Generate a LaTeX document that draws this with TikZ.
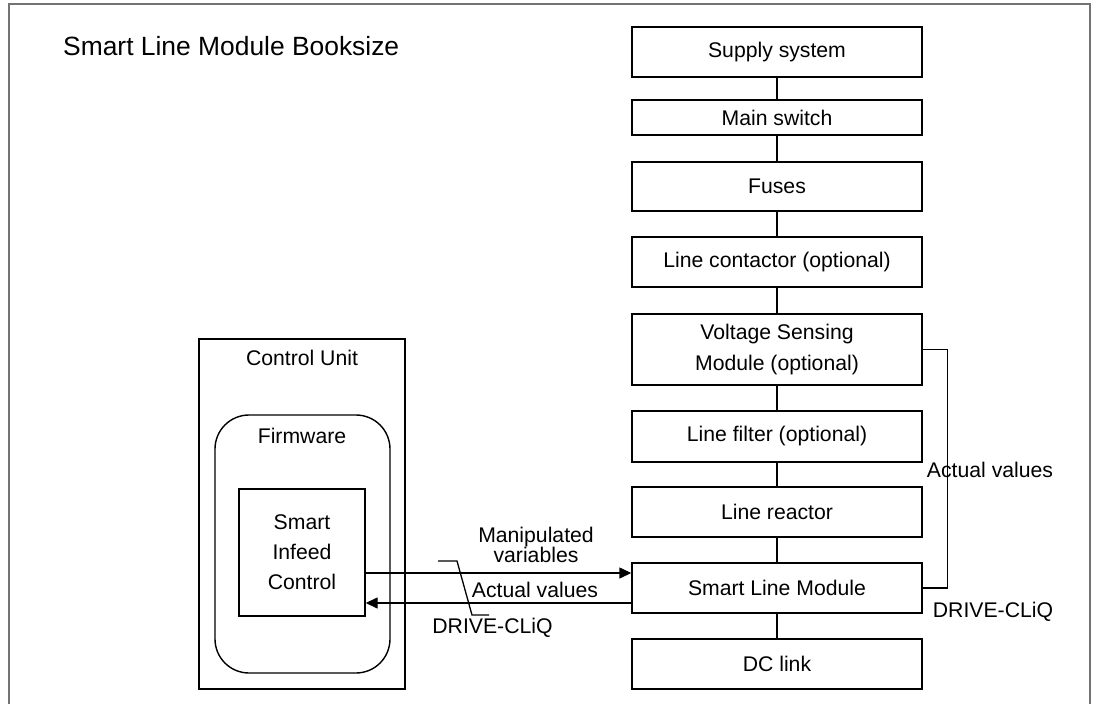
\documentclass[tikz,border=0pt]{standalone}
\usepackage{fontspec}
\setmainfont{Liberation Sans}
\usetikzlibrary{arrows.meta}
\tikzset{
  lbl/.style={font=\fontsize{21.2}{21.2}\selectfont, inner sep=0pt},
  blk/.style={draw, line width=1.4pt, minimum width=290pt, inner sep=0pt, align=center,
              font=\fontsize{21.2}{31}\selectfont},
  wire/.style={line width=1.4pt},
  arr/.style={line width=1.4pt, -{Triangle[length=12pt,width=11pt]}},
  frame/.style={line width=2pt, draw=black!55}
}
\begin{document}
\begin{tikzpicture}[x=1pt,y=-1pt]
\useasboundingbox (0,0) rectangle (1093,704);
% outer frame (bottom edge outside the picture)
\draw[frame] (9,704) -- (9,4) -- (1090,4) -- (1090,704);
\node[lbl, anchor=west, font=\fontsize{26.4}{26.4}\selectfont] (title) at (63,46) {Smart Line Module Booksize};

% right column
\node[blk, minimum height=50pt] (supply) at (777,52) {Supply system};
\node[blk, minimum height=35pt] (mains) at (777,117.5) {Main switch};
\node[blk, minimum height=49pt] (fuses) at (777,186.5) {Fuses};
\node[blk, minimum height=50pt] (cont) at (777,262) {Line contactor (optional)};
\node[blk, minimum height=71pt] (vsm) at (777,349.5) {Voltage Sensing\\Module (optional)};
\node[blk, minimum height=51pt] (filt) at (777,436.5) {Line filter (optional)};
\node[blk, minimum height=50pt] (reac) at (777,512) {Line reactor};
\node[blk, minimum height=50pt] (slm) at (777,588) {Smart Line Module};
\node[blk, minimum height=50pt] (dc) at (777,664) {DC link};
\foreach \a/\b in {supply/mains, mains/fuses, fuses/cont, cont/vsm, vsm/filt, filt/reac, reac/slm, slm/dc}
  \draw[wire] (\a.south) -- (\b.north);

% feedback from VSM to SLM
\draw[wire] (vsm.east) -- ++(25,0) |- (slm.east);
\node[lbl] (av2) at (990,470) {Actual values};
\node[lbl] (dq2) at (993,612) {DRIVE-CLiQ};

% control unit
\node[draw, line width=1.4pt, minimum width=206pt, minimum height=350pt, inner sep=0pt] (cu) at (302,514) {};
\node[lbl] (cutxt) at (302,358) {Control Unit};
\node[draw, line width=1.4pt, rounded corners=34pt, minimum width=175pt, minimum height=258pt, inner sep=0pt] (fw) at (302.5,544) {};
\node[lbl] (fwtxt) at (302,436) {Firmware};
\node[draw, line width=1.4pt, minimum width=126pt, minimum height=127pt, inner sep=0pt, align=center,
      font=\fontsize{21.2}{30}\selectfont] (sic) at (302,552.5) {Smart\\Infeed\\Control};

% data links
\coordinate (u1) at (365,573);
\coordinate (u2) at (632,573);
\coordinate (l1) at (632,603);
\coordinate (l2) at (365,603);
\draw[arr] (sic.east |- u1) -- (slm.west |- u2);
\draw[arr] (slm.west |- l1) -- (sic.east |- l2);
\node[lbl, align=center, font=\fontsize{21.2}{18}\selectfont] (mv) at (536,545) {Manipulated\\variables};
\node[lbl] (av1) at (535,590) {Actual values};

% DRIVE-CLiQ leader
\coordinate (d1) at (438,561);
\coordinate (d2) at (457,561);
\coordinate (d3) at (472,615);
\coordinate (d4) at (489,615);
\draw[line width=1.3pt] (d1) -- (d2) -- (d3) -- (d4);
\node[lbl] (dq1) at (492.5,628) {DRIVE-CLiQ};
\end{tikzpicture}
\end{document}
